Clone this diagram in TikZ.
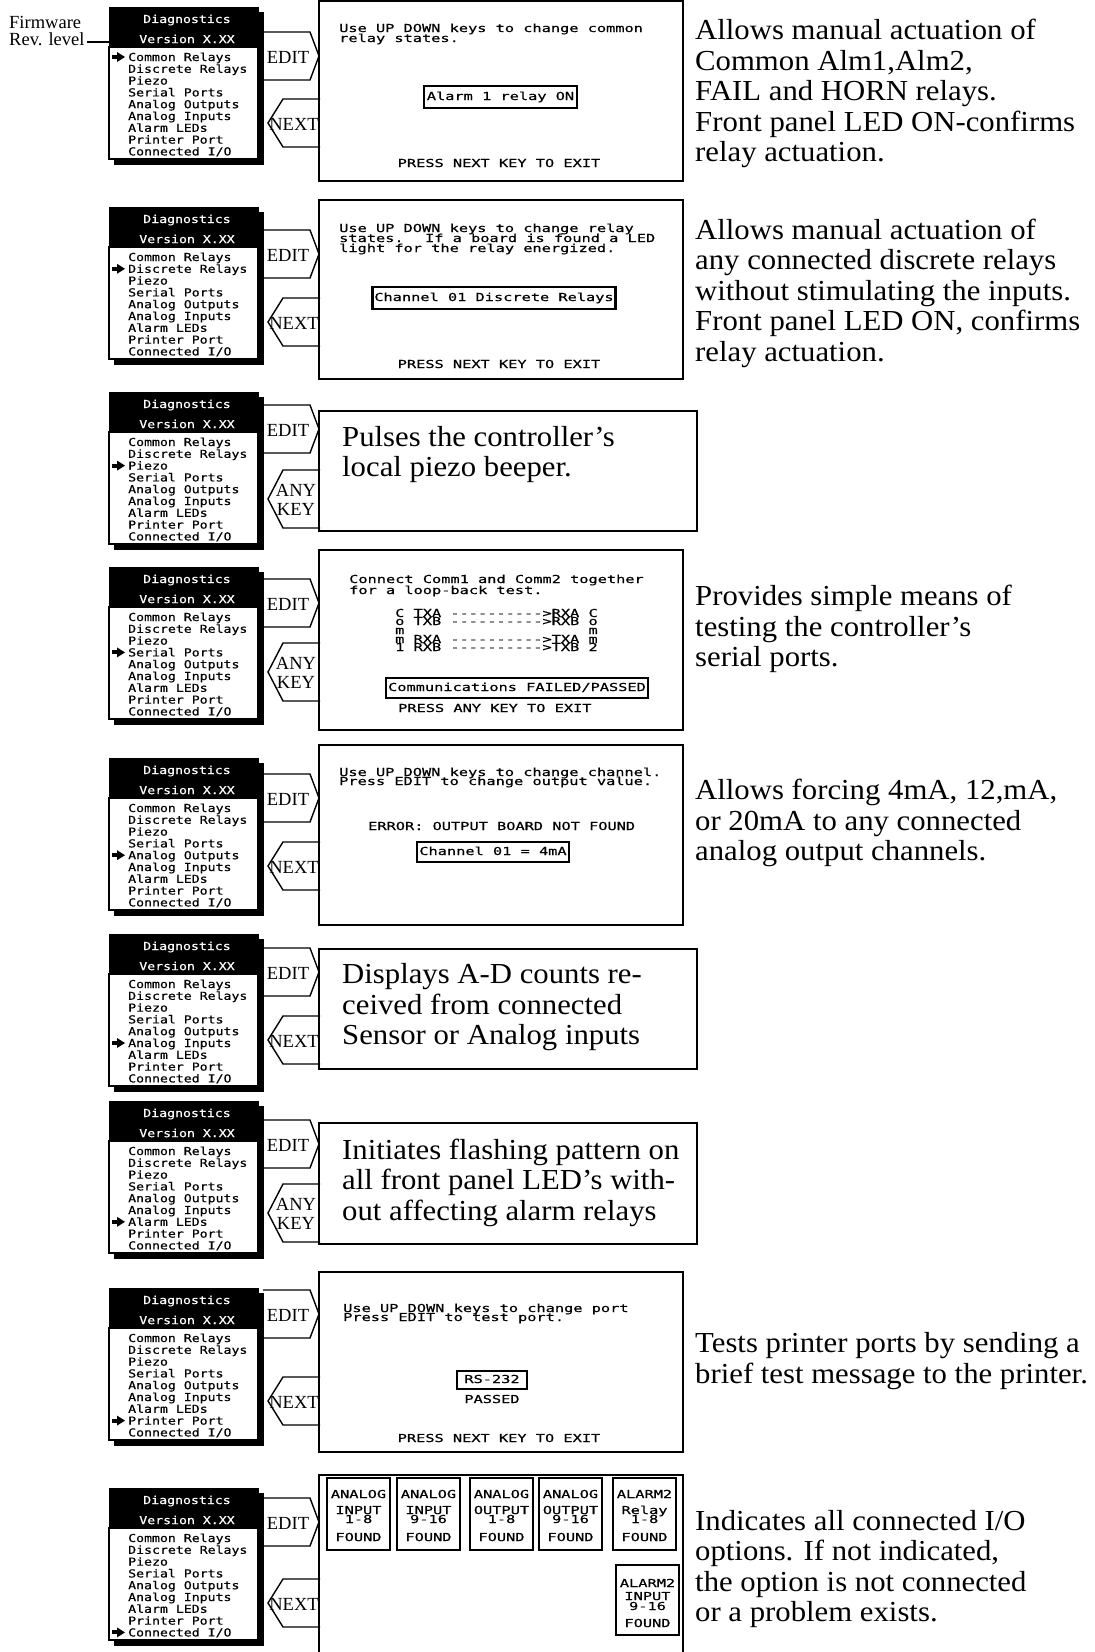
\documentclass[tikz,border=0pt]{standalone}
\usepackage{fontspec}
\setmainfont{Liberation Serif}
\newfontfamily\descfnt[FakeStretch=1.06]{Liberation Serif}
\newfontfamily\menufnt[FakeStretch=1.2,FakeBold=0.5,Ligatures=TeXOff]{DejaVu Sans Mono}
\newfontfamily\scrfnt[FakeStretch=1.39,FakeBold=0.5,Ligatures=TeXOff]{DejaVu Sans Mono}

\tikzset{
  mtxt/.style={font=\menufnt\fontsize{11}{11}\selectfont, inner sep=0pt},
  mitem/.style={mtxt, anchor=base west},
  htxt/.style={mtxt, text=white},
  stxt/.style={font=\scrfnt\fontsize{11}{10}\selectfont, inner sep=0pt, anchor=base west},
  sctr/.style={font=\scrfnt\fontsize{11}{10}\selectfont, inner sep=0pt, anchor=base},
  sbox/.style={font=\scrfnt\fontsize{11}{10}\selectfont, draw, line width=2.6pt,
               text height=8.5pt, text depth=2.5pt, inner ysep=5.5pt, inner xsep=3pt},
  keytxt/.style={font=\fontsize{18.5}{18.5}\selectfont, inner sep=0pt, align=center},
  desc/.style={font=\descfnt\fontsize{29}{30.5}\selectfont, align=left, anchor=west, inner sep=0pt},
  screen/.style={draw, line width=1.3pt},
  tbox/.style={draw, line width=2.8pt},
  keyline/.style={line width=1.4pt, line join=miter},
  iobox/.style={draw, line width=2.6pt},
}

% menu panel: #1 top, #2 selected item, #3 name
\newcommand\dmenu[3]{%
  \fill (258,#1+5) rectangle (263.5,#1+158);
  \fill (114,#1+152) rectangle (263.5,#1+158);
  \node[fill=black, draw=black, line width=1pt, anchor=north west, minimum width=149pt,
        minimum height=40pt, inner sep=0pt] (#3hdr) at (109,#1) {};
  \draw[line width=1.5pt, fill=white] (109,#1+40) rectangle (258,#1+152);
  \node[htxt] (#3d) at (187,#1+13) {Diagnostics};
  \node[htxt] (#3v) at (187,#1+32) {Version X.XX};
  \foreach \itm [count=\i] in {Common Relays,Discrete Relays,Piezo,Serial Ports,Analog Outputs,Analog Inputs,Alarm LEDs,Printer Port,Connected I/O}{
    \node[mitem] (#3i\i) at (128,#1+42.2+\i*11.8) {\itm};
  }
  \pgfmathsetmacro\ay{#1+50+(#2-1)*11.8}
  \fill (112,\ay-2) rectangle (118,\ay+2);
  \fill (117,\ay-5) -- (125,\ay) -- (117,\ay+5) -- cycle;
}
% EDIT key: #1 centre, #2 name
\newcommand\editkey[2]{%
  \draw[keyline] (263,#1-24) -- (310,#1-24) -- (319,#1) -- (310,#1+24) -- (263,#1+24);
  \node[keytxt] (#2) at (288,#1+1) {EDIT};
}
\newcommand\nextkey[2]{%
  \draw[keyline] (320,#1-24) -- (283,#1-24) -- (268,#1) -- (283,#1+24) -- (320,#1+24);
  \node[keytxt] (#2) at (294,#1+1) {NEXT};
}
\newcommand\anykey[2]{%
  \draw[keyline] (320,#1-29) -- (283,#1-29) -- (268,#1) -- (283,#1+29) -- (320,#1+29);
  \node[keytxt] (#2) at (296,#1+1) {ANY\\KEY};
}

\begin{document}
\begin{tikzpicture}[x=1pt,y=-1pt]
\useasboundingbox[fill=white] (0,0) rectangle (1095,1652);

% ---------- Row A : Common Relays
\node[anchor=base west, inner sep=0pt, font=\fontsize{18.5}{18.5}\selectfont] (fw1) at (9,28) {Firmware};
\node[anchor=base west, inner sep=0pt, font=\fontsize{18.5}{18.5}\selectfont] (fw2) at (9,45) {Rev. level};
\dmenu{7}{1}{mA}
\coordinate (fwA) at (87,42);
\draw[line width=2.5pt] (fwA) -- (fwA -| mAhdr.west);
\draw[screen] (319,1) rectangle (683,181);
\editkey{56}{eA}
\nextkey{123}{nA}
\node[stxt] (sA1) at (339,32) {Use UP DOWN keys to change common};
\node[stxt] (sA2) at (339,42) {relay states.};
\node[sbox] (sAb) at (500.5,97) {Alarm 1 relay ON};
\node[sctr] (sA3) at (499,167) {PRESS NEXT KEY TO EXIT};
\node[desc] (dA) at (695,93.5) {Allows manual actuation of\\Common Alm1,Alm2,\\FAIL and HORN relays.\\Front panel LED ON-confirms\\relay actuation.};

% ---------- Row B : Discrete Relays
\dmenu{207}{2}{mB}
\draw[screen] (319,200) rectangle (683,379);
\editkey{254}{eB}
\nextkey{322}{nB}
\node[stxt] (sB1) at (339,232) {Use UP DOWN keys to change relay};
\node[stxt] (sB2) at (339,242) {states.~ If a board is found a LED};
\node[stxt] (sB3) at (339,252) {light for the relay energized.};
\node[sbox, inner xsep=2pt] (sBb) at (494,298) {Channel 01 Discrete Relays};
\node[sctr] (sB4) at (499,368) {PRESS NEXT KEY TO EXIT};
\node[desc] (dB) at (695,293) {Allows manual actuation of\\any connected discrete relays\\without stimulating the inputs.\\Front panel LED ON, confirms\\relay actuation.};

% ---------- Row C : Piezo
\dmenu{392}{3}{mC}
\draw[tbox] (319,411) rectangle (697,531);
\editkey{429}{eC}
\anykey{499}{aC}
\node[desc] (tC) at (342,454.5) {Pulses the controller’s\\local piezo beeper.};

% ---------- Row D : Serial Ports
\dmenu{567}{4}{mD}
\draw[screen] (319,550) rectangle (683,730);
\editkey{603}{eD}
\anykey{672}{aD}
\node[stxt] (sD1) at (349,583) {Connect Comm1 and Comm2 together};
\node[stxt] (sD2) at (349,594) {for a loop-back test.};
\node[stxt] (sD3) at (395,617) {C TXA ---------->RXA C};
\node[stxt] (sD4) at (395,625) {o TXB ---------->RXB o};
\node[stxt] (sD5) at (395,634) {m~~~~~~~~~~~~~~~~~~~~m};
\node[stxt] (sD6) at (395,643) {m RXA ---------->TXA m};
\node[stxt] (sD7) at (395,651) {1 RXB ---------->TXB 2};
\node[sbox, inner ysep=4.5pt, inner xsep=2pt] (sDb) at (517,688) {Communications FAILED/PASSED};
\node[stxt] (sD8) at (398,712) {PRESS ANY KEY TO EXIT};
\node[desc] (dD) at (695,629) {Provides simple means of\\testing the controller’s\\serial ports.};

% ---------- Row E : Analog Outputs
\dmenu{758}{5}{mE}
\draw[screen] (319,745) rectangle (683,925);
\editkey{798}{eE}
\nextkey{866}{nE}
\node[stxt] (sE1) at (339,776) {Use UP DOWN keys to change channel.};
\node[stxt] (sE2) at (339,785) {Press EDIT to change output value.};
\node[stxt] (sE3) at (368,830) {ERROR: OUTPUT BOARD NOT FOUND};
\node[sbox, inner ysep=4.5pt, inner xsep=2.5pt] (sEb) at (493,852) {Channel 01 = 4mA};
\node[desc] (dE) at (695,823) {Allows forcing 4mA, 12,mA,\\or 20mA to any connected\\analog output channels.};

% ---------- Row F : Analog Inputs
\dmenu{934}{6}{mF}
\draw[tbox] (319,949) rectangle (697,1069);
\editkey{972}{eF}
\nextkey{1040}{nF}
\node[desc] (tF) at (342,1007.5) {Displays A-D counts re-\\ceived from connected\\Sensor or Analog inputs};

% ---------- Row G : Alarm LEDs
\dmenu{1101}{7}{mG}
\draw[tbox] (319,1123) rectangle (697,1244);
\editkey{1144}{eG}
\anykey{1213}{aG}
\node[desc] (tG) at (342,1182.5) {Initiates flashing pattern on\\all front panel LED’s with-\\out affecting alarm relays};

% ---------- Row H : Printer Port
\dmenu{1288}{8}{mH}
\draw[screen] (319,1272) rectangle (683,1452);
\editkey{1314}{eH}
\nextkey{1401}{nH}
\node[stxt] (sH1) at (343,1312) {Use UP DOWN keys to change port};
\node[stxt] (sH2) at (343,1321) {Press EDIT to test port.};
\node[sbox, inner ysep=3.5pt, inner xsep=7.5pt] (sHb) at (492,1380) {RS-232};
\node[sctr] (sH3) at (492,1403) {PASSED};
\node[sctr] (sH4) at (499,1442) {PRESS NEXT KEY TO EXIT};
\node[desc] (dH) at (695,1361) {Tests printer ports by sending a\\brief test message to the printer.};

% ---------- Row I : Connected I/O
\dmenu{1488}{9}{mI}
\draw[screen] (319,1475) rectangle (683,1670);
\editkey{1522}{eI}
\nextkey{1603}{nI}
\foreach \bx/\ba/\bb/\bc [count=\k] in {327/ANALOG/INPUT/1-8, 397/ANALOG/INPUT/9-16, 470/ANALOG/OUTPUT/1-8, 539/ANALOG/OUTPUT/9-16, 613/ALARM2/Relay/1-8}{
  \draw[iobox] (\bx,1478) rectangle (\bx+63,1550);
  \node[sctr] (io\k a) at (\bx+31.5,1498) {\ba};
  \node[sctr] (io\k b) at (\bx+31.5,1514) {\bb};
  \node[sctr] (io\k c) at (\bx+31.5,1523) {\bc};
  \node[sctr] (io\k d) at (\bx+31.5,1541) {FOUND};
}
\draw[iobox] (616,1565) rectangle (679,1635);
\node[sctr] (io6a) at (647.5,1587) {ALARM2};
\node[sctr] (io6b) at (647.5,1600) {INPUT};
\node[sctr] (io6c) at (647.5,1610) {9-16};
\node[sctr] (io6d) at (647.5,1627) {FOUND};
\node[desc] (dI) at (695,1569) {Indicates all connected I/O\\options. If not indicated,\\the option is not connected\\or a problem exists.};
\end{tikzpicture}
\end{document}
